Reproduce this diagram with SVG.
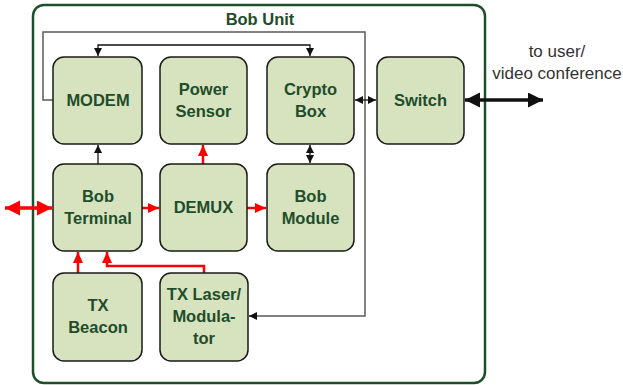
<svg xmlns="http://www.w3.org/2000/svg" width="623" height="385" viewBox="0 0 623 385">
<style>
.node rect{fill:#d7e3bf;stroke:#1a1a1a;stroke-width:1.5}
.node text,.lbl{font-family:"Liberation Sans",Arial,sans-serif;font-weight:bold;font-size:16.5px;fill:#1f4d2b;text-anchor:middle}
.ext{font-family:"Liberation Sans",Arial,sans-serif;font-size:17px;fill:#333;text-anchor:middle}
.blk{fill:none;stroke:#111;stroke-width:1.3}
.gry{fill:none;stroke:#5a5a5a;stroke-width:1.5}
.red{fill:none;stroke:#ff0000;stroke-width:2.5}
</style>
<defs>
<marker id="ab" markerUnits="userSpaceOnUse" markerWidth="9" markerHeight="9" refX="8" refY="4" orient="auto-start-reverse"><path d="M0,0 L8,4 L0,8 z" fill="#111"/></marker>
<marker id="ar" markerUnits="userSpaceOnUse" markerWidth="12" markerHeight="12" refX="11" refY="5" orient="auto-start-reverse"><path d="M0,0 L11,5 L0,10 z" fill="#ff0000"/></marker>
<marker id="arL" markerUnits="userSpaceOnUse" markerWidth="16" markerHeight="16" refX="15" refY="7.5" orient="auto-start-reverse"><path d="M0,0 L15,7.5 L0,15 z" fill="#ff0000"/></marker>
<marker id="abL" markerUnits="userSpaceOnUse" markerWidth="16" markerHeight="16" refX="15" refY="7.5" orient="auto-start-reverse"><path d="M0,0 L15,7.5 L0,15 z" fill="#111"/></marker>
</defs>
<rect x="0" y="0" width="623" height="385" fill="#fff"/>
<g id="bob-unit">
<rect x="33" y="5" width="452" height="378" rx="11" fill="none" stroke="#1f4e2d" stroke-width="2.5"/>
<text class="lbl" x="260" y="25">Bob Unit</text>
</g>
<g id="connectors">
<path class="gry" d="M53,100 H43 V32 H365 V316 H250"/>
<path class="blk" d="M250,316 H249" marker-end="url(#ab)"/>
<path class="blk" d="M98,56 V45 H310 V56" marker-start="url(#ab)" marker-end="url(#ab)"/>
<path class="blk" d="M98,164 V145" marker-end="url(#ab)"/>
<path class="blk" d="M310,145 V163" marker-start="url(#ab)" marker-end="url(#ab)"/>
<path class="blk" d="M355,100 H376" marker-start="url(#ab)" marker-end="url(#ab)"/>
<path fill="none" stroke="#111" stroke-width="3.5" d="M465,100 H543" marker-start="url(#abL)" marker-end="url(#abL)"/>
<path fill="none" stroke="#ff0000" stroke-width="3.5" d="M5,208 H52" marker-start="url(#arL)" marker-end="url(#arL)"/>
<path class="red" d="M203,164 V145" marker-end="url(#ar)"/>
<path class="red" d="M142,208 H159" marker-end="url(#ar)"/>
<path class="red" d="M247,208 H266" marker-end="url(#ar)"/>
<path class="red" d="M78,273 V252" marker-end="url(#ar)"/>
<path class="red" d="M204,273 V266 H107 V252" marker-end="url(#ar)"/>
</g>
<g id="modem" class="node"><rect x="53" y="57" width="89" height="87" rx="11"/><text x="98" y="106">MODEM</text></g>
<g id="power-sensor" class="node"><rect x="160" y="57" width="87" height="87" rx="11"/><text x="203.5" y="95">Power</text><text x="203.5" y="117">Sensor</text></g>
<g id="crypto-box" class="node"><rect x="267" y="57" width="87" height="87" rx="11"/><text x="310.5" y="95">Crypto</text><text x="310.5" y="117">Box</text></g>
<g id="switch" class="node"><rect x="377" y="57" width="87" height="87" rx="11"/><text x="420.5" y="106">Switch</text></g>
<g id="bob-terminal" class="node"><rect x="53" y="164" width="89" height="87" rx="11"/><text x="98" y="202">Bob</text><text x="98" y="224">Terminal</text></g>
<g id="demux" class="node"><rect x="160" y="164" width="87" height="87" rx="11"/><text x="203.5" y="213">DEMUX</text></g>
<g id="bob-module" class="node"><rect x="267" y="164" width="87" height="87" rx="11"/><text x="310.5" y="202">Bob</text><text x="310.5" y="224">Module</text></g>
<g id="tx-beacon" class="node"><rect x="53" y="273" width="89" height="88" rx="11"/><text x="98" y="311">TX</text><text x="98" y="333">Beacon</text></g>
<g id="tx-laser" class="node"><rect x="160" y="273" width="88" height="88" rx="11"/><text x="204" y="300">TX Laser/</text><text x="204" y="322">Modula-</text><text x="204" y="344">tor</text></g>
<g id="external-label"><text class="ext" x="557" y="57">to user/</text><text class="ext" x="557" y="79">video conference</text></g>
</svg>
